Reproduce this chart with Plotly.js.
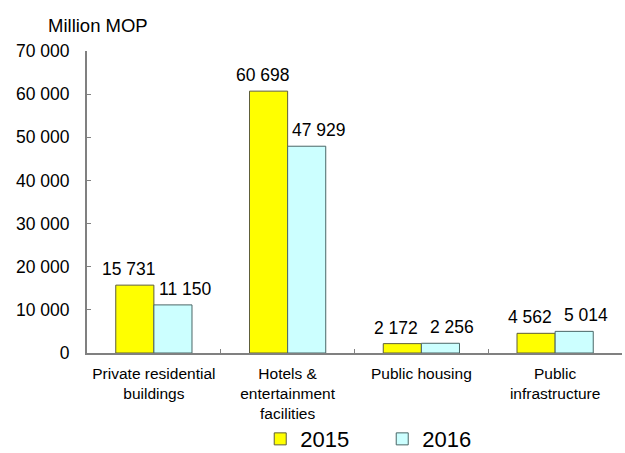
<!DOCTYPE html>
<html><head><meta charset="utf-8">
<script src="https://cdn.plot.ly/plotly-3.0.1.min.js"></script>
<style>html,body{margin:0;padding:0;background:#fff}</style>
</head><body>
<div id="chart" style="width:625px;height:453px"></div>
<script>
const categories = ["Private residential<br>buildings", "Hotels &<br>entertainment<br>facilities", "Public housing", "Public<br>infrastructure"];
const seriesNames = ["2015", "2016"];
const values2015 = [15731, 60698, 2172, 4562];
const values2016 = [11150, 47929, 2256, 5014];
const yTicks = [0, 10000, 20000, 30000, 40000, 50000, 60000, 70000];

const font = "Liberation Sans, Arial, sans-serif";
const fmt = v => String(v).replace(/\B(?=(\d{3})+(?!\d))/g, " ");

const traces = [
  {type: "bar", name: seriesNames[0], x: categories, y: values2015,
   marker: {color: "#FFFF00", line: {color: "#5e5e3a", width: 1}}, hoverinfo: "none"},
  {type: "bar", name: seriesNames[1], x: categories, y: values2016,
   marker: {color: "#CCFFFF", line: {color: "#4a6666", width: 1}}, hoverinfo: "none"}
];

const annotations = [{text: "Million MOP", xref: "paper", yref: "paper", x: 0.0206, y: 1.083,
  xanchor: "center", yanchor: "middle", showarrow: false,
  font: {family: font, size: 18.5, color: "#000"}}];
[[values2015, -25], [values2016, 31]].forEach(([vals, dx]) => {
  vals.forEach((v, i) => annotations.push({
    x: categories[i], y: v, xref: "x", yref: "y", text: fmt(v), showarrow: false,
    xanchor: "center", yanchor: "middle", xshift: dx, yshift: 16,
    font: {family: font, size: 17.5, color: "#000"}
  }));
});

const layout = {
  width: 625, height: 453,
  margin: {l: 87, r: 3, t: 51, b: 100, autoexpand: false},
  separators: ". ",
  paper_bgcolor: "#fff", plot_bgcolor: "#fff",
  font: {family: font, color: "#000"},
  barmode: "group", bargap: 0.43, bargroupgap: 0,
  showlegend: true, hovermode: false,
  legend: {orientation: "h", x: 0.3238, xanchor: "left", yref: "paper", y: -0.285, yanchor: "middle",
           font: {family: font, size: 22, color: "#000"}, entrywidth: 77, entrywidthmode: "pixels",
           traceorder: "normal", bgcolor: "rgba(0,0,0,0)"},
  xaxis: {type: "category", showline: true, linecolor: "#808080", linewidth: 2,
          ticks: "inside", tickson: "boundaries", ticklen: 4, tickcolor: "#808080",
          ticklabelstandoff: 5, automargin: false,
          tickfont: {family: font, size: 15.5, color: "#000"}, showgrid: false, zeroline: false},
  yaxis: {range: [0, 70000], tickvals: yTicks, tickformat: ",d", showline: true,
          linecolor: "#808080", linewidth: 2, ticks: "inside", ticklen: 4, tickcolor: "#808080",
          ticklabelstandoff: 12, automargin: false,
          tickfont: {family: font, size: 17.5, color: "#000"}, showgrid: false, zeroline: false},
  annotations: annotations
};
Plotly.newPlot("chart", traces, layout, {displayModeBar: false, staticPlot: true});
</script>
</body></html>
